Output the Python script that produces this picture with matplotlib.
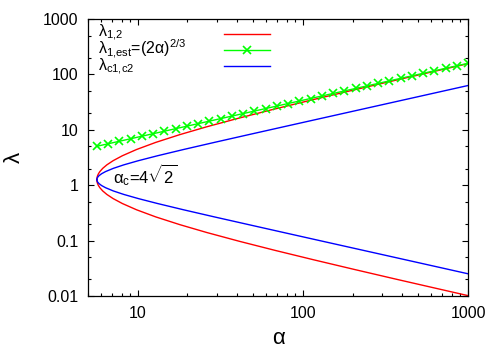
import matplotlib
matplotlib.use("Agg")
import matplotlib.pyplot as plt
from matplotlib.ticker import LogLocator, NullFormatter, FuncFormatter

plt.rcParams["font.family"] = ["Liberation Sans", "DejaVu Sans"]
plt.rcParams["mathtext.fontset"] = "custom"
plt.rcParams["mathtext.rm"] = "Liberation Sans"
plt.rcParams["mathtext.it"] = "Liberation Sans:italic"
plt.rcParams["mathtext.bf"] = "Liberation Sans:bold"

# lambda_1,2 : both branches share the same alpha values
red_alpha = [5.657, 5.662, 5.676, 5.715, 5.787, 5.901, 6.141, 6.505, 7.101, 8.073, 9.841,
             12.85, 18.00, 26.19, 41.40, 68.31, 116.4, 206.5, 362.2, 624.1, 1072]
red_lam_upper = [1.260, 1.323, 1.386, 1.487, 1.613, 1.764, 2.016, 2.331, 2.772, 3.402, 4.410,
                 5.922, 8.190, 11.34, 16.38, 23.94, 35.28, 52.92, 78.12, 113.4, 163.8]
red_lam_lower = [1.260, 1.200, 1.145, 1.068, 0.984, 0.900, 0.787, 0.681, 0.573, 0.467, 0.360,
                 0.268, 0.194, 0.140, 0.0969, 0.0663, 0.0450, 0.0300, 0.0203, 0.0140, 0.00969]

# lambda_c1,c2
blue_alpha = [5.657, 5.672, 5.715, 5.832, 6.049, 6.393, 7.122, 8.241, 10.10, 13.19, 18.95,
              29.10, 47.04, 76.47, 132.6, 234.3, 419.1, 769.9, 1380.8]
blue_lam_upper = [1.260, 1.323, 1.386, 1.487, 1.613, 1.764, 2.016, 2.331, 2.772, 3.402, 4.410,
                  5.922, 8.190, 11.34, 16.38, 23.94, 35.28, 52.92, 78.12]
blue_lam_lower = [1.260, 1.200, 1.145, 1.068, 0.984, 0.900, 0.787, 0.681, 0.573, 0.467, 0.360,
                  0.268, 0.194, 0.140, 0.0969, 0.0663, 0.0450, 0.0300, 0.0203]

# lambda_1,est = (2 alpha)^(2/3), sampled points with markers
est_alpha = [5.657, 6.617, 7.741, 9.056, 10.59, 12.39, 14.50, 16.96, 19.84, 23.21, 27.14,
             31.75, 37.14, 43.45, 50.82, 59.44, 69.54, 81.35, 95.15, 111.3, 130.2, 152.3,
             178.2, 208.4, 243.8, 285.2, 333.6, 390.2, 456.5, 534.0, 624.6, 730.6, 854.7, 1000]
est_lam = [5.040, 5.595, 6.212, 6.896, 7.656, 8.499, 9.436, 10.48, 11.63, 12.91, 14.33,
           15.91, 17.67, 19.61, 21.78, 24.17, 26.84, 29.80, 33.08, 36.73, 40.77, 45.27,
           50.25, 55.79, 61.94, 68.77, 76.35, 84.76, 94.10, 104.5, 116.0, 128.8, 143.0, 158.7]

labels = ["λ$_{\\mathrm{1{,}2}}$",
          "λ$_{\\mathrm{1{,}est}}$=(2α)$^{\\mathrm{2/3}}$",
          "λ$_{\\mathrm{c1{,}c2}}$"]

RED, GREEN, BLUE = "#ff0000", "#00ff00", "#0000ff"

fig = plt.figure(figsize=(4.98, 3.48), dpi=100)
ax = fig.add_axes([0.1767, 0.1494, 0.7631, 0.7960])

ax.plot(red_alpha, red_lam_upper, color=RED, lw=1.0)
ax.plot(red_alpha, red_lam_lower, color=RED, lw=1.0)
ax.plot(est_alpha, est_lam, color=GREEN, lw=1.0, marker="x", ms=6, mew=1.2)
ax.plot(blue_alpha, blue_lam_upper, color=BLUE, lw=1.0)
ax.plot(blue_alpha, blue_lam_lower, color=BLUE, lw=1.0)

ax.set_xscale("log")
ax.set_yscale("log")
ax.set_xlim(5, 1000)
ax.set_ylim(0.01, 1000)

ax.xaxis.set_major_locator(LogLocator(base=10, numticks=10))
ax.xaxis.set_minor_locator(LogLocator(base=10, subs=range(2, 10), numticks=20))
ax.yaxis.set_major_locator(LogLocator(base=10, numticks=10))
ax.yaxis.set_minor_locator(LogLocator(base=10, subs=[2, 5], numticks=20))
fmt = FuncFormatter(lambda v, p: "%g" % v)
ax.xaxis.set_major_formatter(fmt)
ax.yaxis.set_major_formatter(fmt)
ax.xaxis.set_minor_formatter(NullFormatter())
ax.yaxis.set_minor_formatter(NullFormatter())
ax.tick_params(which="both", direction="in", top=True, right=True, labelsize=11.5, width=0.8)
ax.tick_params(which="major", length=4.5, pad=7)
ax.tick_params(which="minor", length=2.2)
for s in ax.spines.values():
    s.set_linewidth(0.9)

ax.set_xlabel("α", fontsize=16, labelpad=5)
ax.set_ylabel("λ", fontsize=16, labelpad=13)

# key in the gnuplot style: left-justified text, samples to the right
key_rows = [0.947, 0.888, 0.830]
key_base = [0.934, 0.873, 0.812]
for lab, yb, yl, c, mk in zip(labels, key_base, key_rows, [RED, GREEN, BLUE], [None, "x", None]):
    ax.text(0.027, yb, lab, transform=ax.transAxes, fontsize=11.5, va="baseline", ha="left")
    ax.plot([0.358, 0.479], [yl, yl], transform=ax.transAxes, color=c, lw=1.0, clip_on=False)
    if mk:
        ax.plot([0.4185], [yl], transform=ax.transAxes, color=c, marker=mk, ms=6, mew=1.2,
                clip_on=False)

ax.text(7.05, 1.1, "α$_{\\mathrm{c}}$=4$\\sqrt{2}$", fontsize=12, va="baseline", ha="left")

fig.savefig("out.png", dpi=100)
